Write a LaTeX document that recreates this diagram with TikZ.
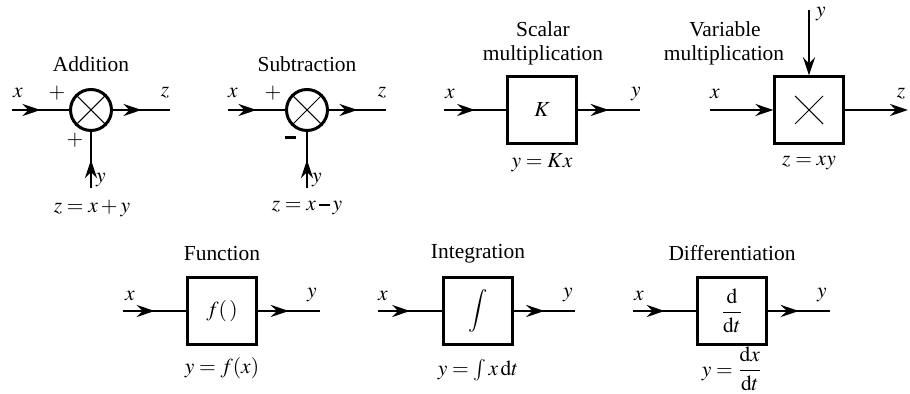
\documentclass[tikz,border=0pt]{standalone}
\usepackage{amsmath}
\usepackage{mathptmx}
\usepackage{fontspec}
\setmainfont{Liberation Serif}
\usetikzlibrary{arrows.meta, decorations.markings}

\newcommand{\thkminus}{\mathbin{\rule[0.19em]{0.5em}{0.13em}}}

\tikzset{
    sumnode/.style={circle, draw, line width=1.7pt, minimum size=0.82cm, inner sep=0pt},
    blocknode/.style={rectangle, draw, line width=1.3pt, minimum width=1.38cm, minimum height=1.34cm, inner sep=0pt},
    tip/.tip={Stealth[length=3.6mm, width=2.4mm, inset=1.2mm]},
    sig/.style={line width=1.6pt, postaction={decorate},
        decoration={markings, mark=at position 0.5 with {\arrow{tip}}}},
    sigend/.style={line width=1.6pt, -tip},
    lbl/.style={font=\fontsize{12.2}{14}\selectfont, inner sep=0pt},
}

\begin{document}
\begin{tikzpicture}[x=0.02cm, y=-0.02cm]
    \useasboundingbox (0,0) rectangle (910,394);

    % addition
    \node[sumnode] (add) at (91,110) {};
    \draw[line width=0.6pt] (add.north west) -- (add.south east) (add.north east) -- (add.south west);
    \coordinate (addx) at (12,110);
    \coordinate (addz) at (170,110);
    \coordinate (addy) at (91,188);
    \draw[sig] (addx) -- (add);
    \draw[sig] (add) -- (addz);
    \draw[sig] (addy) -- (add);
    \node[lbl] (addtitle) at (91,64) {Addition};
    \node[lbl] (addxl) at (18,93) {$x$};
    \node[lbl] (addp1) at (57,93) {$+$};
    \node[lbl] (addzl) at (165,93) {$z$};
    \node[lbl] (addp2) at (75,140) {$+$};
    \node[lbl] (addyl) at (101,180) {$y$};
    \node[lbl] (addeq) at (92,208) {$z = x + y$};

    % subtraction
    \node[sumnode] (sub) at (307,110) {};
    \draw[line width=0.6pt] (sub.north west) -- (sub.south east) (sub.north east) -- (sub.south west);
    \coordinate (subx) at (228,110);
    \coordinate (subz) at (386,110);
    \coordinate (suby) at (307,188);
    \draw[sig] (subx) -- (sub);
    \draw[sig] (sub) -- (subz);
    \draw[sig] (suby) -- (sub);
    \node[lbl] (subtitle) at (307,64) {Subtraction};
    \node[lbl] (subxl) at (233,93) {$x$};
    \node[lbl] (subp) at (273,93) {$+$};
    \node[lbl] (subzl) at (382,93) {$z$};
    \node[lbl] (subm) at (290,138) {\rule{0.22cm}{0.06cm}};
    \node[lbl] (subyl) at (317,180) {$y$};
    \node[lbl] (subeq) at (307,208) {$z = x \thkminus y$};

    % scalar multiplication
    \node[blocknode] (scal) at (542,110) {};
    \node[lbl] (scalk) at (542,110) {$K$};
    \coordinate (scalx) at (444,110);
    \coordinate (scaly) at (640,110);
    \draw[sig] (scalx) -- (scal);
    \draw[sig] (scal) -- (scaly);
    \node[lbl] (scaltitle) at (543,29) {Scalar};
    \node[lbl] (scaltitleb) at (543,55) {multiplication};
    \node[lbl] (scalxl) at (450,94) {$x$};
    \node[lbl] (scalyl) at (636,94) {$y$};
    \node[lbl] (scaleq) at (542,163) {$y = Kx$};

    % variable multiplication
    \node[blocknode] (var) at (809,110) {};
    \draw[line width=0.6pt] (795,96) -- (823,124) (823,96) -- (795,124);
    \coordinate (varx) at (710,110);
    \coordinate (varz) at (908,110);
    \coordinate (vary) at (809,10);
    \draw[sigend] (varx) -- (var);
    \draw[sigend] (var) -- (varz);
    \draw[sigend] (vary) -- (var);
    \node[lbl] (vartitle) at (725,29) {Variable};
    \node[lbl] (vartitleb) at (724,55) {multiplication};
    \node[lbl] (varxl) at (715,94) {$x$};
    \node[lbl] (varzl) at (901,94) {$z$};
    \node[lbl] (varyl) at (821,14) {$y$};
    \node[lbl] (vareq) at (809,163) {$z = xy$};

    % function
    \node[blocknode] (fun) at (222,311) {};
    \node[lbl] (funf) at (222,311) {$f(\,)$};
    \coordinate (funx) at (123,311);
    \coordinate (funy) at (320,311);
    \draw[sig] (funx) -- (fun);
    \draw[sig] (fun) -- (funy);
    \node[lbl] (funtitle) at (222,254) {Function};
    \node[lbl] (funxl) at (130,296) {$x$};
    \node[lbl] (funyl) at (312,295) {$y$};
    \node[lbl] (funeq) at (222,368) {$y = f(x)$};

    % integration
    \node[blocknode] (int) at (478,311) {};
    \node[lbl] (ints) at (478,311) {$\displaystyle\int$};
    \coordinate (intx) at (378,311);
    \coordinate (inty) at (575,311);
    \draw[sig] (intx) -- (int);
    \draw[sig] (int) -- (inty);
    \node[lbl] (inttitle) at (478,254) {Integration};
    \node[lbl] (intxl) at (383,296) {$x$};
    \node[lbl] (intyl) at (568,295) {$y$};
    \node[lbl] (inteq) at (478,370) {$y = \int x \,\mathrm{d}t$};

    % differentiation
    \node[blocknode] (dif) at (732,311) {};
    \node[lbl] (difd) at (732,311) {$\dfrac{\mathrm{d}}{\mathrm{d}t}$};
    \coordinate (difx) at (633,311);
    \coordinate (dify) at (830,311);
    \draw[sig] (difx) -- (dif);
    \draw[sig] (dif) -- (dify);
    \node[lbl] (diftitle) at (732,253) {Differentiation};
    \node[lbl] (difxl) at (639,296) {$x$};
    \node[lbl] (difyl) at (822,295) {$y$};
    \node[lbl] (difeq) at (732,369) {$y = \dfrac{\mathrm{d}x}{\mathrm{d}t}$};
\end{tikzpicture}
\end{document}
